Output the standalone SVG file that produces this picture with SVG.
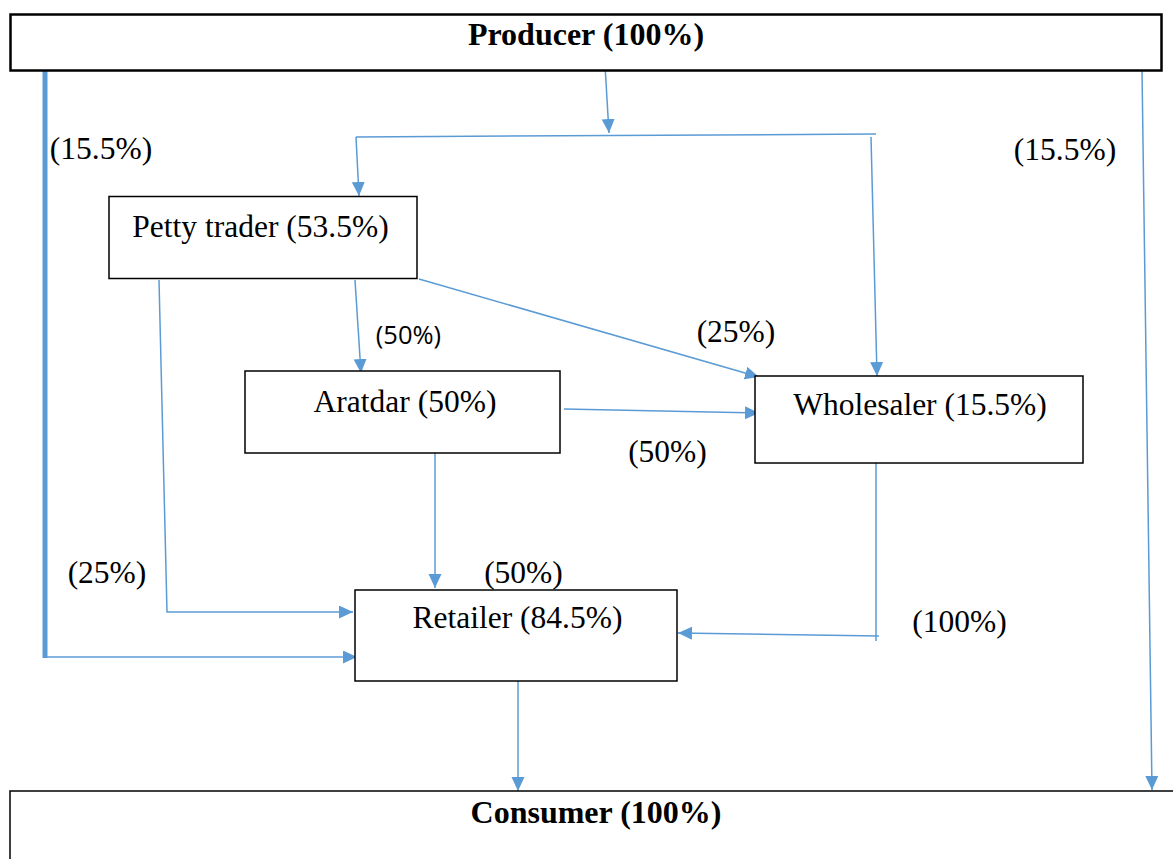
<svg xmlns="http://www.w3.org/2000/svg" width="1173" height="859" viewBox="0 0 1173 859">
  <defs>
    <marker id="arrow" markerUnits="userSpaceOnUse" markerWidth="16" markerHeight="14" refX="14" refY="6.5" orient="auto">
      <path d="M0,0 L14,6.5 L0,13 z" fill="#5B9BD5"/>
    </marker>
    <style>
      .box { fill: #ffffff; stroke: #000000; stroke-width: 1.5; }
      .thick { stroke-width: 2.5; }
      .lbl { font-family: "Liberation Serif", "Times New Roman", serif; font-size: 31.5px; fill: #000000; text-anchor: middle; }
      .bold { font-weight: bold; font-size: 32px; }
      .sans { font-family: "Open Sans", "Liberation Sans", sans-serif; font-size: 25.5px; fill: #000000; text-anchor: middle; }
      .link { fill: none; stroke: #5B9BD5; stroke-width: 1.5; }
      .arr { marker-end: url(#arrow); }
    </style>
  </defs>

  <rect width="1173" height="859" fill="#ffffff"/>

  <!-- connectors -->
  <g id="connectors">
    <!-- producer to the split bar -->
    <line class="link arr" x1="605" y1="65" x2="609" y2="133"/>
    <line class="link" x1="356" y1="137" x2="876" y2="134"/>
    <line class="link arr" x1="356" y1="137" x2="359" y2="196"/>
    <line class="link arr" x1="871" y1="137" x2="877" y2="376"/>

    <!-- producer direct to retailer (thick bar) -->
    <line x1="45" y1="70" x2="45" y2="658" stroke="#5B9BD5" stroke-width="5"/>
    <line class="link arr" x1="45" y1="657" x2="357" y2="657"/>

    <!-- producer direct to consumer -->
    <line class="link arr" x1="1142" y1="70" x2="1152" y2="790"/>

    <!-- petty trader flows -->
    <polyline class="link arr" points="159,280 167,612 353,612"/>
    <line class="link arr" x1="355" y1="280" x2="361" y2="373"/>
    <line class="link arr" x1="419" y1="279" x2="759" y2="377"/>

    <!-- aratdar flows -->
    <line class="link arr" x1="564" y1="409" x2="759" y2="413"/>
    <line class="link arr" x1="435" y1="453" x2="435" y2="588"/>

    <!-- wholesaler to retailer -->
    <line class="link" x1="876" y1="463" x2="876" y2="641"/>
    <line class="link arr" x1="879" y1="636" x2="678" y2="633"/>

    <!-- retailer to consumer -->
    <line class="link arr" x1="518" y1="681" x2="518" y2="791"/>
  </g>

  <!-- nodes -->
  <g id="producer">
    <rect class="box thick" x="10.5" y="14.5" width="1151" height="56"/>
    <text class="lbl bold" x="586" y="45">Producer (100%)</text>
  </g>

  <g id="petty-trader">
    <rect class="box" x="109" y="196.5" width="308" height="82"/>
    <text class="lbl" x="260.5" y="237">Petty trader (53.5%)</text>
  </g>

  <g id="aratdar">
    <rect class="box" x="245" y="371" width="315" height="82"/>
    <text class="lbl" x="405" y="412">Aratdar (50%)</text>
  </g>

  <g id="wholesaler">
    <rect class="box" x="755" y="376" width="328" height="87" stroke-width="2"/>
    <text class="lbl" x="920" y="415">Wholesaler (15.5%)</text>
  </g>

  <g id="retailer">
    <rect class="box" x="355" y="590" width="322" height="91" stroke="#222222"/>
    <text class="lbl" x="517.5" y="628">Retailer (84.5%)</text>
  </g>

  <g id="consumer">
    <rect class="box" x="10" y="791" width="1175" height="90" stroke-width="2"/>
    <text class="lbl bold" x="596" y="823">Consumer (100%)</text>
  </g>

  <!-- flow shares -->
  <g id="shares">
    <text class="lbl" x="101" y="159">(15.5%)</text>
    <text class="lbl" x="1065" y="160">(15.5%)</text>
    <text class="sans" x="408.5" y="344">(50%)</text>
    <text class="lbl" x="736" y="342">(25%)</text>
    <text class="lbl" x="667.5" y="462">(50%)</text>
    <text class="lbl" x="523.5" y="583">(50%)</text>
    <text class="lbl" x="107" y="583">(25%)</text>
    <text class="lbl" x="959.5" y="632">(100%)</text>
  </g>
</svg>
